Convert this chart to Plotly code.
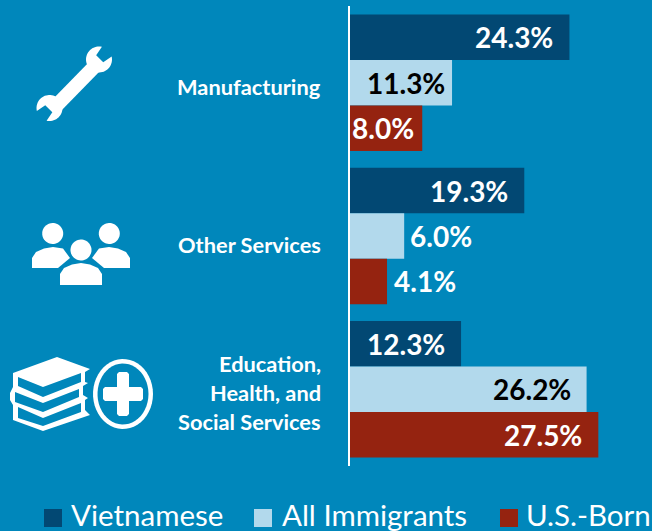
import numpy as np
import plotly.graph_objects as go

categories = ["Manufacturing", "Other Services", "Education, Health, and Social Services"]
series_names = ["Vietnamese", "All Immigrants", "U.S.-Born"]
vietnamese = [24.3, 19.3, 12.3]
all_immigrants = [11.3, 6.0, 26.2]
us_born = [8.0, 4.1, 27.5]
category_label_lines = [["Manufacturing"], ["Other Services"], ["Education,", "Health, and", "Social Services"]]

W, H = 652, 531
BG, NAVY, LIGHT, RED = "#0087BB", "#024873", "#B2D9EC", "#952310"
colors = [NAVY, LIGHT, RED]
FONT = "Lato"

fig = go.Figure()
for name, vals, c in zip(series_names, [vietnamese, all_immigrants, us_born], colors):
    fig.add_bar(y=categories, x=vals, name=name, orientation="h", marker=dict(color=c, line_width=0), showlegend=False)

shapes, ann = [], []
def poly(pts, fill="white"):
    d = "M" + "L".join(f"{x/W:.5f},{1-y/H:.5f}" for x, y in pts) + "Z"
    shapes.append(dict(type="path", path=d, xref="paper", yref="paper", fillcolor=fill, line_width=0, layer="above"))
def arc(cx, cy, r, a0=0, a1=360, ry=None, n=48):
    ry = ry or r
    t = np.radians(np.linspace(a0, a1, n))
    return list(zip(cx + r*np.cos(t), cy + ry*np.sin(t)))

# wrench icon
def head(cx, cy, r, ang):
    a = np.radians(ang)
    dx, dy = np.cos(a), np.sin(a)
    px, py = -dy, dx
    poly(arc(cx, cy, r, ang+32, ang+328) + [(cx+dx*1-px*5, cy+dy*1-py*5), (cx+dx*1+px*5, cy+dy*1+py*5)])
head(99, 59.5, 13, -45)
head(49.5, 108, 13, 135)
poly([(91, 60), (101, 70), (59, 113), (49, 103)])

# people icon
for cx, cy in [(52.7, 233.5), (109.3, 233.5), (81, 250)]:
    poly(arc(cx, cy, 10.5))
left = [(32, 268), (32, 258), (36, 252), (44, 248.5), (53, 247), (63, 248.5), (70, 258), (58, 268)]
poly(left)
poly([(162-x, y) for x, y in left])
poly([(60, 285), (60, 274), (64, 268), (72, 264.5), (81, 263), (90, 264.5), (98, 268), (102, 274), (102, 285)])

# books icon
poly([(57, 357), (90, 369), (85, 372), (85, 382), (88, 383), (83, 386), (83, 395), (88, 398), (85, 400), (85, 410), (90, 415),
      (43, 431), (13, 420), (13, 405), (10, 400), (10, 393), (13, 387), (13, 373)])
for pts in [
    [(18, 377), (43, 387), (81, 373), (81, 382), (43, 397), (18, 386)],
    [(15, 392), (43, 403), (79, 389), (79, 397), (43, 412), (15, 402)],
    [(18, 407), (43, 418), (81, 403), (81, 412), (43, 426), (18, 418)],
]:
    poly(pts, BG)
# medical cross in a ring
poly(arc(123, 394, 30, ry=35))
poly(arc(123, 394, 25.5, ry=30.5), BG)
poly([(119, 372), (127, 372), (129, 374), (129, 387), (141, 387), (143, 389), (143, 399), (141, 401), (129, 401),
      (129, 414), (127, 416), (119, 416), (117, 414), (117, 401), (105, 401), (103, 399), (103, 389), (105, 387), (117, 387), (117, 374)])

# bar value labels
bar_h = (1 - 0.11) / 3
label_specs = [
    [(-14, "right", "white"), (-5, "right", "black"), (-6, "right", "white")],
    [(-14, "right", "white"), (4, "left", "white"), (5, "left", "white")],
    [(-14, "right", "white"), (-14, "right", "black"), (-14, "right", "white")],
]
for i, vals in enumerate(zip(vietnamese, all_immigrants, us_born)):
    for j, v in enumerate(vals):
        dx, anc, col = label_specs[i][j]
        ann.append(dict(x=v, y=i + (j-1)*bar_h, xref="x", yref="y", text=f"{v:.1f}%", showarrow=False, xanchor=anc,
                        xshift=dx, yshift=0, font=dict(family=FONT, size=28, color=col, weight="bold")))

# category labels
label_y = [[87], [245], [363, 392, 421]]
for lines, ys in zip(category_label_lines, label_y):
    for line, y in zip(lines, ys):
        ann.append(dict(x=322.5/W, y=1-y/H, xref="paper", yref="paper", text=line, showarrow=False, xanchor="right", yanchor="middle",
                        font=dict(family=FONT, size=21.8, color="white", weight="bold")))

# legend
leg = [(44, 69), (254, 280), (500, 524)]
for name, c, (sx, tx) in zip(series_names, colors, leg):
    poly([(sx, 509), (sx+18, 509), (sx+18, 527), (sx, 527)], c)
    ann.append(dict(x=tx/W, y=1-514/H, xref="paper", yref="paper", text=name, showarrow=False, xanchor="left", yanchor="middle",
                    font=dict(family=FONT, size=29.5, color="white")))

shapes.append(dict(type="line", x0=349/W, x1=349/W, y0=1-466/H, y1=1-6/H, xref="paper", yref="paper", line=dict(color="white", width=2)))
fig.update_layout(
    width=W, height=H, margin=dict(l=0, r=0, t=0, b=0, pad=0), paper_bgcolor=BG, plot_bgcolor=BG,
    barmode="group", bargap=0.11, bargroupgap=0, shapes=shapes, annotations=ann,
    xaxis=dict(domain=[350/W, 1], range=[0, 302/9.03], visible=False),
    yaxis=dict(domain=[1-466/H, 1-6/H], autorange=False, range=[2.5, -0.5], type="category", showticklabels=False, ticks="",
               showgrid=False, zeroline=False),
)
fig.write_html("out.html", config=dict(displayModeBar=False),
               post_script="document.body.style.margin='0';document.documentElement.style.overflow='hidden';")
